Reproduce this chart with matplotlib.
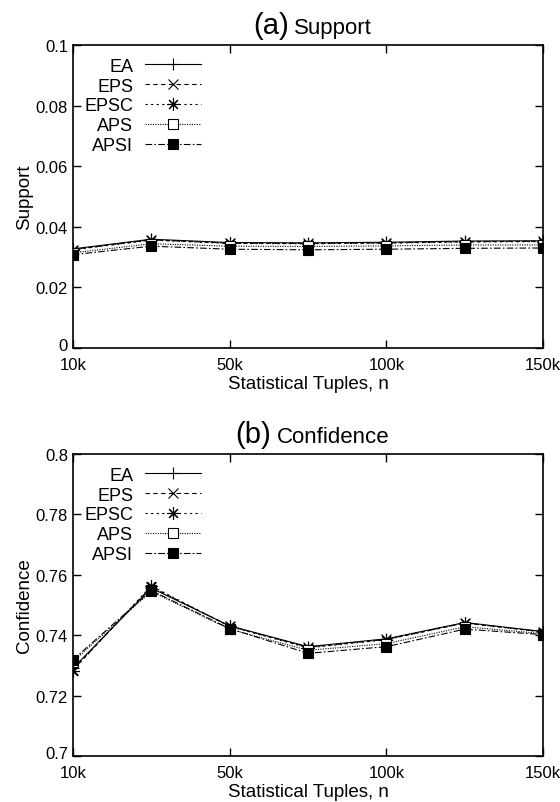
import matplotlib
matplotlib.use("Agg")
import matplotlib.pyplot as plt
import matplotlib.transforms as mtransforms
from matplotlib.offsetbox import AnchoredOffsetbox, HPacker, TextArea
import numpy as np

plt.rcParams['font.family'] = ['Liberation Sans', 'DejaVu Sans']

# statistical tuples n (thousands), one point per run
tuples = [10, 25, 50, 75, 100, 125, 150]
tick_pos = [0, 2, 4, 6]
tick_labels = ['10k', '50k', '100k', '150k']

methods = ['EA', 'EPS', 'EPSC', 'APS', 'APSI']

support_ea   = [0.0327, 0.0359, 0.0348, 0.0347, 0.0349, 0.0353, 0.0354]
support_eps  = [0.0325, 0.0357, 0.0346, 0.0345, 0.0347, 0.0351, 0.0352]
support_epsc = [0.0324, 0.0356, 0.0345, 0.0344, 0.0346, 0.0350, 0.0351]
support_aps  = [0.0314, 0.0344, 0.0336, 0.0335, 0.0337, 0.0340, 0.0340]
support_apsi = [0.0308, 0.0336, 0.0326, 0.0324, 0.0326, 0.0329, 0.0330]

conf_ea   = [0.7290, 0.7556, 0.7431, 0.7362, 0.7388, 0.7442, 0.7412]
conf_eps  = [0.7285, 0.7560, 0.7430, 0.7360, 0.7386, 0.7440, 0.7411]
conf_epsc = [0.7283, 0.7563, 0.7429, 0.7358, 0.7385, 0.7441, 0.7410]
conf_aps  = [0.7312, 0.7545, 0.7420, 0.7350, 0.7372, 0.7428, 0.7405]
conf_apsi = [0.7318, 0.7548, 0.7422, 0.7340, 0.7362, 0.7420, 0.7402]

styles = [
    dict(ls='-', marker='+', ms=9, mfc='black'),
    dict(ls=(0, (4, 3)), marker='x', ms=7, mfc='black'),
    dict(ls=(0, (2, 3)), marker=(8, 2, 0), ms=9, mfc='black'),
    dict(ls=(0, (1, 1.2)), marker='s', ms=6.5, mfc='white'),
    dict(ls=(0, (6, 2, 1.5, 2)), marker='s', ms=6.5, mfc='black'),
]

fig = plt.figure(figsize=(5.6, 8.03), dpi=100)
ax1 = fig.add_axes([0.130, 0.5654, 0.840, 0.3773])
ax2 = fig.add_axes([0.130, 0.0573, 0.840, 0.3761])

x = np.arange(len(tuples))


def draw(ax, series, ylim, yticks, ylabel, tag, name):
    for lab, ys, st in zip(methods, series, styles):
        ax.plot(x, ys, color='black', lw=0.8, mec='black', mew=0.8,
                label=lab, **st)
    ax.set_xlim(0, 6)
    ax.set_ylim(*ylim)
    ax.set_xticks(tick_pos)
    ax.set_xticklabels(tick_labels)
    ax.set_yticks(yticks)
    ax.set_yticklabels([('%g' % v) for v in yticks])
    ax.tick_params(direction='in', length=6, width=1.0, top=True, right=True,
                   labelsize=12)
    ax.tick_params(axis='x', pad=6.5)
    ax.tick_params(axis='y', pad=3.5)
    # lift the lowest y label a little so it clears the first x label
    lbl = ax.get_yticklabels()[0]
    lbl.set_transform(lbl.get_transform() +
                      mtransforms.ScaledTranslation(0, 3 / 72, fig.dpi_scale_trans))
    for sp in ax.spines.values():
        sp.set_linewidth(1.2)
    ax.set_xlabel('Statistical Tuples, n', fontsize=13.5, labelpad=2)
    ax.set_ylabel(ylabel, fontsize=13.5, labelpad=2)

    # title: large panel tag followed by the measure name
    title = HPacker(children=[TextArea(tag, textprops=dict(fontsize=21)),
                              TextArea(name, textprops=dict(fontsize=16))],
                    align='baseline', pad=0, sep=4)
    box = AnchoredOffsetbox(loc='lower center', child=title, pad=0,
                            borderpad=0, frameon=False,
                            bbox_to_anchor=(0.51, 1.02),
                            bbox_transform=ax.transAxes)
    ax.add_artist(box)

    ax.legend(loc='upper left', markerfirst=False, frameon=False,
              fontsize=13, handlelength=3.1, handletextpad=0.65,
              labelspacing=0.16, borderaxespad=0, borderpad=0.4,
              bbox_to_anchor=(0.009, 0.982))


draw(ax1, [support_ea, support_eps, support_epsc, support_aps, support_apsi],
     (0, 0.1), [0, 0.02, 0.04, 0.06, 0.08, 0.1], 'Support', '(a)', 'Support')
draw(ax2, [conf_ea, conf_eps, conf_epsc, conf_aps, conf_apsi],
     (0.7, 0.8), [0.7, 0.72, 0.74, 0.76, 0.78, 0.8], 'Confidence', '(b)',
     'Confidence')

fig.savefig('out.png', dpi=100)
